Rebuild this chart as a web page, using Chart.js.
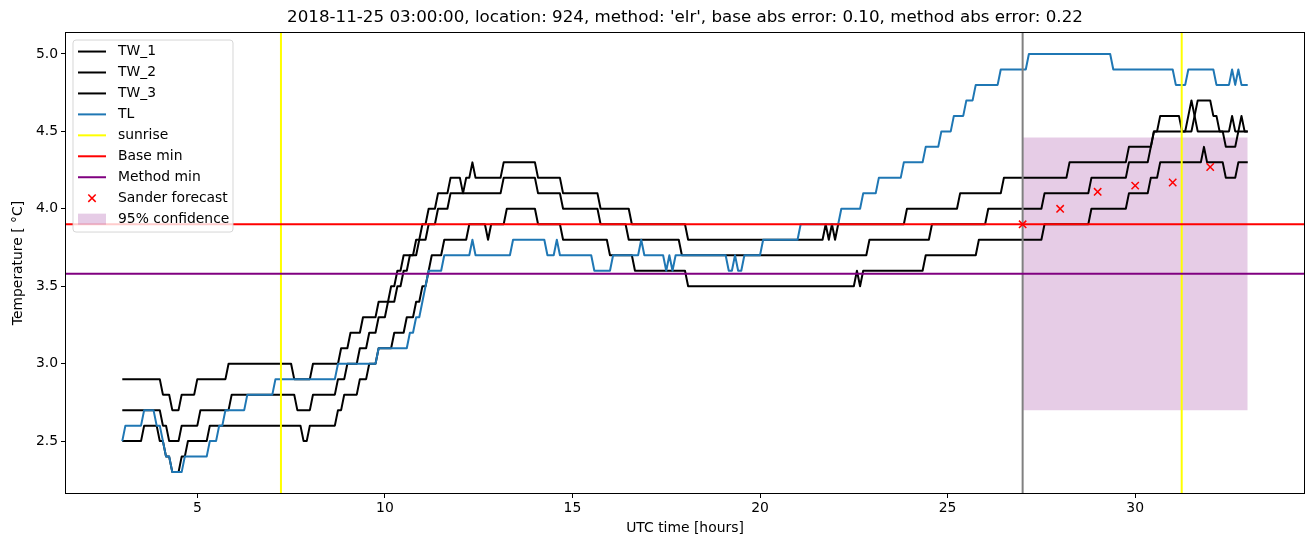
<!DOCTYPE html>
<html>
<head>
<meta charset="utf-8">
<script src="https://cdn.jsdelivr.net/npm/chart.js@4/dist/chart.umd.min.js"></script>
<style>
html,body{margin:0;padding:0;background:#ffffff;}
#wrap{width:1315px;height:547px;}
</style>
</head>
<body>
<div id="wrap"><canvas id="c" width="1315" height="547"></canvas></div>
<script>
// ---------------- data ----------------
const TITLE = "2018-11-25 03:00:00, location: 924, method: 'elr', base abs error: 0.10, method abs error: 0.22";
const X_LABEL = "UTC time [hours]";
const Y_LABEL = "Temperature [ °C]";

// series sampled every 5 minutes from 03:00 (index 0) to 33:00 (index 360)
const START_HOUR = 3;
const STEP_MINUTES = 5;
const N_SAMPLES = 361;

// [first sample index, value] : value holds until the next entry
const TW_1_steps = [[0,2.9],[13,2.8],[16,2.7],[19,2.8],[24,2.9],[34,3.0],[55,2.9],[61,3.0],[70,3.1],[73,3.2],[77,3.3],[82,3.4],[86,3.5],[88,3.6],[90,3.7],[94,3.8],[96,3.9],[98,4.0],[101,4.1],[105,4.2],[109,4.1],[110,4.2],[112,4.3],[113,4.2],[122,4.3],[133,4.2],[141,4.1],[153,4.0],[163,3.9],[181,3.8],[225,3.9],[226,3.8],[227,3.9],[228,3.8],[229,3.9],[251,4.0],[268,4.1],[282,4.2],[303,4.3],[322,4.4],[330,4.5],[332,4.6],[339,4.5],[343,4.6],[344,4.7],[349,4.6],[351,4.5],[353,4.4],[357,4.5]];
const TW_2_steps = [[0,2.7],[13,2.6],[15,2.5],[19,2.6],[25,2.7],[35,2.8],[56,2.7],[61,2.8],[69,2.9],[72,3.0],[76,3.1],[79,3.2],[82,3.3],[85,3.4],[88,3.5],[90,3.6],[92,3.7],[95,3.8],[98,3.9],[101,4.0],[105,4.1],[122,4.2],[133,4.1],[141,4.0],[153,3.9],[162,3.8],[179,3.7],[239,3.8],[259,3.9],[277,4.0],[295,4.1],[310,4.2],[322,4.3],[329,4.4],[330,4.5],[341,4.6],[342,4.7],[343,4.6],[344,4.5],[355,4.6],[356,4.5],[358,4.6],[359,4.5]];
const TW_3_steps = [[0,2.5],[7,2.6],[12,2.5],[14,2.4],[16,2.3],[19,2.4],[21,2.5],[28,2.6],[58,2.5],[60,2.6],[69,2.7],[71,2.8],[76,2.9],[79,3.0],[82,3.1],[87,3.2],[91,3.3],[94,3.4],[96,3.5],[98,3.6],[99,3.7],[103,3.8],[111,3.9],[117,3.8],[118,3.9],[123,4.0],[133,3.9],[141,3.8],[156,3.7],[164,3.6],[181,3.5],[235,3.6],[236,3.5],[237,3.6],[257,3.7],[274,3.8],[295,3.9],[310,4.0],[322,4.1],[329,4.2],[332,4.3],[346,4.4],[347,4.3],[353,4.2],[357,4.3]];
const TL_steps = [[0,2.5],[1,2.6],[7,2.7],[11,2.6],[13,2.5],[14,2.4],[16,2.3],[20,2.4],[28,2.5],[31,2.6],[33,2.7],[40,2.8],[49,2.9],[69,3.0],[82,3.1],[92,3.2],[94,3.3],[96,3.4],[97,3.5],[98,3.6],[103,3.7],[112,3.8],[113,3.7],[125,3.8],[136,3.7],[139,3.8],[140,3.7],[151,3.6],[157,3.7],[166,3.8],[167,3.7],[174,3.6],[175,3.7],[176,3.6],[177,3.7],[194,3.6],[196,3.7],[197,3.6],[199,3.7],[205,3.8],[217,3.9],[230,4.0],[237,4.1],[242,4.2],[250,4.3],[257,4.4],[262,4.5],[266,4.6],[270,4.7],[273,4.8],[281,4.9],[290,5.0],[317,4.9],[337,4.8],[341,4.9],[350,4.8],[355,4.9],[356,4.8],[357,4.9],[358,4.8]];

const SUNRISE_HOURS = [7.23, 31.24];
const FORECAST_START_HOUR = 27;
const BASE_MIN = 3.90;
const METHOD_MIN = 3.58;
const SANDER_HOURS = [27, 28, 29, 30, 31, 32];
const SANDER_VALUES = [3.90, 4.00, 4.11, 4.15, 4.17, 4.27];
const CONF_HOURS = [27, 33];
const CONF_LOW = 2.70;
const CONF_HIGH = 4.46;

const X_RANGE = [1.5, 34.5];
const Y_RANGE = [2.165, 5.135];
const X_TICKS = [5, 10, 15, 20, 25, 30];
const Y_TICKS = [2.5, 3.0, 3.5, 4.0, 4.5, 5.0];

// ---------------- build datasets ----------------
function expandSteps(steps) {
  const pts = [];
  let s = 0;
  for (let i = 0; i < N_SAMPLES; i++) {
    while (s + 1 < steps.length && steps[s + 1][0] <= i) s++;
    pts.push({x: START_HOUR + i * STEP_MINUTES / 60, y: steps[s][1]});
  }
  return pts;
}
function lineDs(label, data, color, order, row) {
  return {label, data, borderColor: color, backgroundColor: color, borderWidth: 2,
    pointRadius: 0, pointHoverRadius: 0, tension: 0, fill: false, order,
    borderJoinStyle: 'round', borderCapStyle: 'butt', legendRow: row, legendKind: 'line'};
}
const FONT = 'DejaVu Sans';

const datasets = [
  lineDs('TW_1', expandSteps(TW_1_steps), '#000000', 9, 0),
  lineDs('TW_2', expandSteps(TW_2_steps), '#000000', 8, 1),
  lineDs('TW_3', expandSteps(TW_3_steps), '#000000', 7, 2),
  lineDs('TL', expandSteps(TL_steps), '#1f77b4', 6, 3),
  lineDs('sunrise', [{x: SUNRISE_HOURS[0], y: Y_RANGE[0]}, {x: SUNRISE_HOURS[0], y: Y_RANGE[1]}], '#ffff00', 4, 4),
  lineDs('sunrise (2)', [{x: SUNRISE_HOURS[1], y: Y_RANGE[0]}, {x: SUNRISE_HOURS[1], y: Y_RANGE[1]}], '#ffff00', 4, undefined),
  lineDs('forecast start', [{x: FORECAST_START_HOUR, y: Y_RANGE[0]}, {x: FORECAST_START_HOUR, y: Y_RANGE[1]}], '#808080', 5, undefined),
  lineDs('Base min', [{x: X_RANGE[0], y: BASE_MIN}, {x: X_RANGE[1], y: BASE_MIN}], '#ff0000', 3, 5),
  lineDs('Method min', [{x: X_RANGE[0], y: METHOD_MIN}, {x: X_RANGE[1], y: METHOD_MIN}], '#800080', 2, 6),
  {label: 'Sander forecast', data: SANDER_HOURS.map((h, i) => ({x: h, y: SANDER_VALUES[i]})),
   showLine: false, pointStyle: 'crossRot', pointRadius: 5.2, pointHoverRadius: 5.2,
   pointBorderColor: '#ff0000', pointBackgroundColor: '#ff0000', pointBorderWidth: 1.5,
   borderColor: '#ff0000', order: 1, legendRow: 7, legendKind: 'marker'},
  {label: '95% confidence', data: CONF_HOURS.map(h => ({x: h, y: CONF_HIGH})),
   borderWidth: 0, borderColor: 'rgba(0,0,0,0)', pointRadius: 0, pointHoverRadius: 0,
   backgroundColor: 'rgba(128,0,128,0.2)', fill: {value: CONF_LOW}, order: 10,
   legendRow: 8, legendKind: 'patch'}
];
datasets.forEach(d => { d.clip = 0; });

// ---------------- plugins ----------------
const framePlugin = {
  id: 'frame',
  afterDatasetsDraw(chart) {
    const {ctx, chartArea: a} = chart;
    ctx.save();
    ctx.strokeStyle = '#000000';
    ctx.lineWidth = 1;
    ctx.strokeRect(Math.round(a.left) - 0.5, Math.round(a.top) - 0.5,
                   Math.round(a.right - a.left) + 1, Math.round(a.bottom - a.top) + 1);
    ctx.restore();
  }
};

const legendPlugin = {
  id: 'mplLegend',
  afterDraw(chart) {
    const {ctx, chartArea: a} = chart;
    const entries = chart.data.datasets.filter(d => d.legendRow !== undefined)
      .sort((p, q) => p.legendRow - q.legendRow);
    const bx = a.left + 7, by = a.top + 7, bw = 160, bh = 192, r = 3;
    ctx.save();
    ctx.beginPath();
    ctx.moveTo(bx + r, by);
    ctx.lineTo(bx + bw - r, by); ctx.quadraticCurveTo(bx + bw, by, bx + bw, by + r);
    ctx.lineTo(bx + bw, by + bh - r); ctx.quadraticCurveTo(bx + bw, by + bh, bx + bw - r, by + bh);
    ctx.lineTo(bx + r, by + bh); ctx.quadraticCurveTo(bx, by + bh, bx, by + bh - r);
    ctx.lineTo(bx, by + r); ctx.quadraticCurveTo(bx, by, bx + r, by);
    ctx.closePath();
    ctx.fillStyle = 'rgba(255,255,255,0.8)';
    ctx.fill();
    ctx.strokeStyle = 'rgba(204,204,204,0.8)';
    ctx.lineWidth = 1;
    ctx.stroke();

    ctx.font = '13.9px "' + FONT + '"';
    ctx.textBaseline = 'middle';
    ctx.textAlign = 'left';
    entries.forEach((d, i) => {
      const cy = by + 11.5 + i * 20.95;
      const x0 = bx + 5, x1 = bx + 33;
      if (d.legendKind === 'line') {
        ctx.strokeStyle = d.borderColor;
        ctx.lineWidth = 2;
        ctx.beginPath(); ctx.moveTo(x0, cy); ctx.lineTo(x1, cy); ctx.stroke();
      } else if (d.legendKind === 'marker') {
        const cx = (x0 + x1) / 2, h = 3.7;
        ctx.strokeStyle = d.pointBorderColor;
        ctx.lineWidth = 1.5;
        ctx.beginPath();
        ctx.moveTo(cx - h, cy - h); ctx.lineTo(cx + h, cy + h);
        ctx.moveTo(cx - h, cy + h); ctx.lineTo(cx + h, cy - h);
        ctx.stroke();
      } else if (d.legendKind === 'patch') {
        ctx.fillStyle = d.backgroundColor;
        ctx.fillRect(x0, cy - 5.5, x1 - x0, 11);
      }
      ctx.fillStyle = '#000000';
      ctx.fillText(d.label, bx + 45, cy);
    });
    ctx.restore();
  }
};

// ---------------- chart ----------------
const tickFont = {family: FONT, size: 13.9};
new Chart(document.getElementById('c'), {
  type: 'line',
  data: {datasets},
  options: {
    responsive: false,
    devicePixelRatio: 1,
    animation: false,
    events: [],
    layout: {padding: {left: 0, right: 11, top: 0, bottom: 0}},
    plugins: {
      legend: {display: false},
      tooltip: {enabled: false},
      title: {display: true, text: TITLE, color: '#000000', fullSize: false,
              font: {family: FONT, size: 16.7, weight: 'normal'},
              padding: {top: 8, bottom: 5}}
    },
    scales: {
      x: {
        type: 'linear', min: X_RANGE[0], max: X_RANGE[1],
        afterBuildTicks: s => { s.ticks = X_TICKS.map(v => ({value: v})); },
        afterFit: s => { s.height = 54; },
        ticks: {color: '#000000', font: tickFont, padding: 2, maxRotation: 0, autoSkip: false,
                callback: v => String(v)},
        grid: {display: true, drawOnChartArea: false, drawTicks: true, tickLength: 5,
               color: '#000000', lineWidth: 1},
        border: {display: false},
        title: {display: true, text: X_LABEL, color: '#000000', font: tickFont,
                padding: {top: 0, bottom: 10}}
      },
      y: {
        type: 'linear', min: Y_RANGE[0], max: Y_RANGE[1],
        afterBuildTicks: s => { s.ticks = Y_TICKS.map(v => ({value: v})); },
        afterFit: s => { s.width = 66; },
        ticks: {color: '#000000', font: tickFont, padding: 3, autoSkip: false,
                callback: v => Number(v).toFixed(1)},
        grid: {display: true, drawOnChartArea: false, drawTicks: true, tickLength: 5,
               color: '#000000', lineWidth: 1},
        border: {display: false},
        title: {display: true, text: Y_LABEL, color: '#000000', font: tickFont,
                padding: {top: 10, bottom: 0}}
      }
    }
  },
  plugins: [framePlugin, legendPlugin]
});
</script>
</body>
</html>
